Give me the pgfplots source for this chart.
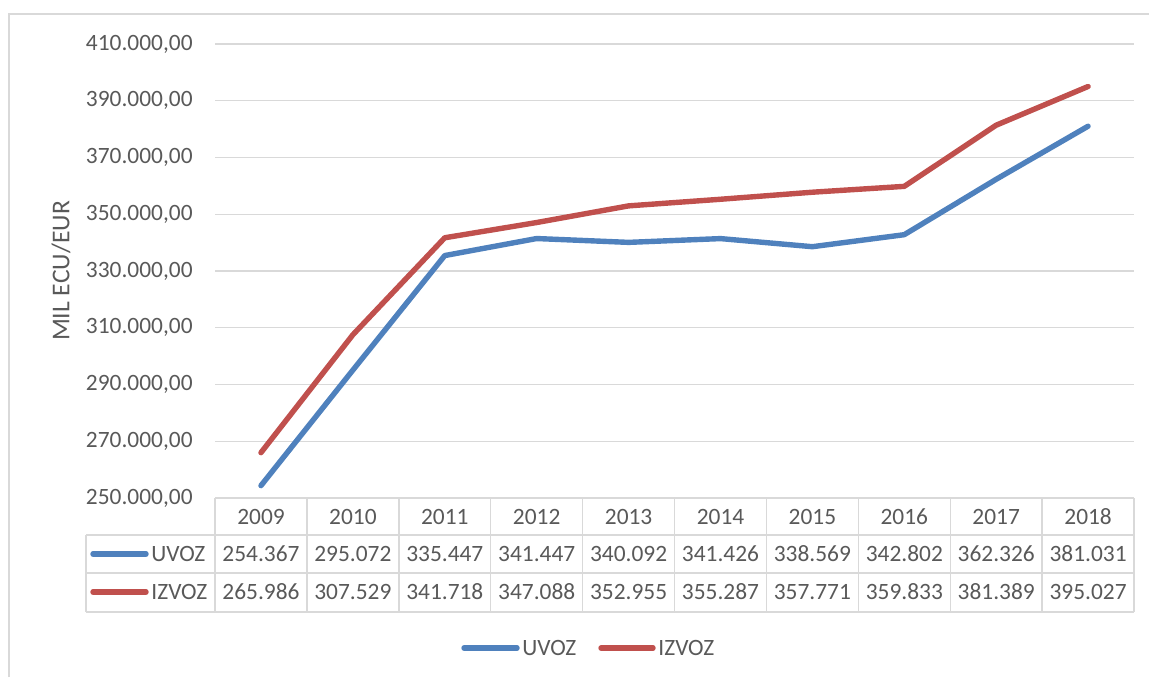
\documentclass[border=0pt]{standalone}
\usepackage{pgfplots}
\pgfplotsset{compat=1.18}
\usepackage{fontspec}
\setmainfont{Carlito}
\definecolor{txt}{HTML}{595959}
\definecolor{grd}{HTML}{D9D9D9}
\definecolor{cblue}{HTML}{4F81BD}
\definecolor{cred}{HTML}{C0504D}
\newcommand\cf{\fontsize{11.7pt}{14pt}\selectfont}
\begin{document}
\begin{tikzpicture}
\begin{scope}[x=0.5pt,y=-0.5pt]
\useasboundingbox (0,0) rectangle (1149,677);
\draw[grd, line width=0.7pt] (9,677) -- (9,14) -- (1149,14);
\end{scope}
\begin{axis}[at={(107.5pt,-249pt)}, anchor=south west, scale only axis,
  width=459.5pt, height=227pt,
  xmin=-0.5, xmax=9.5, ymin=250000, ymax=410000,
  ytick={250000,270000,290000,310000,330000,350000,370000,390000,410000},
  xtick=\empty, scaled y ticks=false,
  axis line style={draw=none}, major tick length=0pt,
  ymajorgrids, grid style={grd, line width=0.6pt},
  yticklabel style={font=\cf, text=txt, anchor=east, inner sep=0pt, xshift=-11pt,
    /pgf/number format/.cd, fixed, fixed zerofill, precision=2, 1000 sep={.}, use comma, assume math mode=true},
  clip=false]
\addplot[cblue, line width=2.7pt, line cap=round, line join=round] coordinates {
 (0,254367) (1,295072) (2,335447) (3,341447) (4,340092) (5,341426) (6,338569) (7,342802) (8,362326) (9,381031)};
\addplot[cred, line width=2.7pt, line cap=round, line join=round] coordinates {
 (0,265986) (1,307529) (2,341718) (3,347088) (4,352955) (5,355287) (6,357771) (7,359833) (8,381389) (9,395027)};
\end{axis}
\begin{scope}[x=0.5pt,y=-0.5pt]
% table grid
\draw[grd, line width=0.7pt] (215,498) -- (1134,498);
\draw[grd, line width=0.7pt] (86,535) -- (1134,535);
\draw[grd, line width=0.7pt] (86,573) -- (1134,573);
\draw[grd, line width=0.7pt] (86,612) -- (1134,612);
\draw[grd, line width=0.7pt] (86,535) -- (86,612);
\foreach \k in {0,...,10} {\draw[grd, line width=0.7pt] ({215+91.9*\k},498) -- ({215+91.9*\k},612);}
\foreach \k/\yr/\u/\i in {0/2009/254.367/265.986, 1/2010/295.072/307.529, 2/2011/335.447/341.718,
  3/2012/341.447/347.088, 4/2013/340.092/352.955, 5/2014/341.426/355.287, 6/2015/338.569/357.771,
  7/2016/342.802/359.833, 8/2017/362.326/381.389, 9/2018/381.031/395.027} {
  \node[font=\cf, text=txt, inner sep=0pt] at ({261+91.9*\k},517) {\yr};
  \node[font=\cf, text=txt, inner sep=0pt] at ({261+91.9*\k},554) {\u};
  \node[font=\cf, text=txt, inner sep=0pt] at ({261+91.9*\k},592) {\i};
}
\draw[cblue, line width=2.7pt, line cap=round] (93,554) -- (146,554);
\node[font=\cf, text=txt, inner sep=0pt, anchor=west] at (151,554) {UVOZ};
\draw[cred, line width=2.7pt, line cap=round] (93,592) -- (146,592);
\node[font=\cf, text=txt, inner sep=0pt, anchor=west] at (151,592) {IZVOZ};
% legend
\draw[cblue, line width=2.7pt, line cap=round] (464,648) -- (517,648);
\node[font=\cf, text=txt, inner sep=0pt, anchor=west] at (522,648) {UVOZ};
\draw[cred, line width=2.7pt, line cap=round] (601,648) -- (653,648);
\node[font=\cf, text=txt, inner sep=0pt, anchor=west] at (658,648) {IZVOZ};
% y label
\node[font=\fontsize{12.8pt}{15pt}\selectfont, text=txt, inner sep=0pt, rotate=90] at (61,271) {MIL ECU/EUR};
\end{scope}
\end{tikzpicture}
\end{document}
